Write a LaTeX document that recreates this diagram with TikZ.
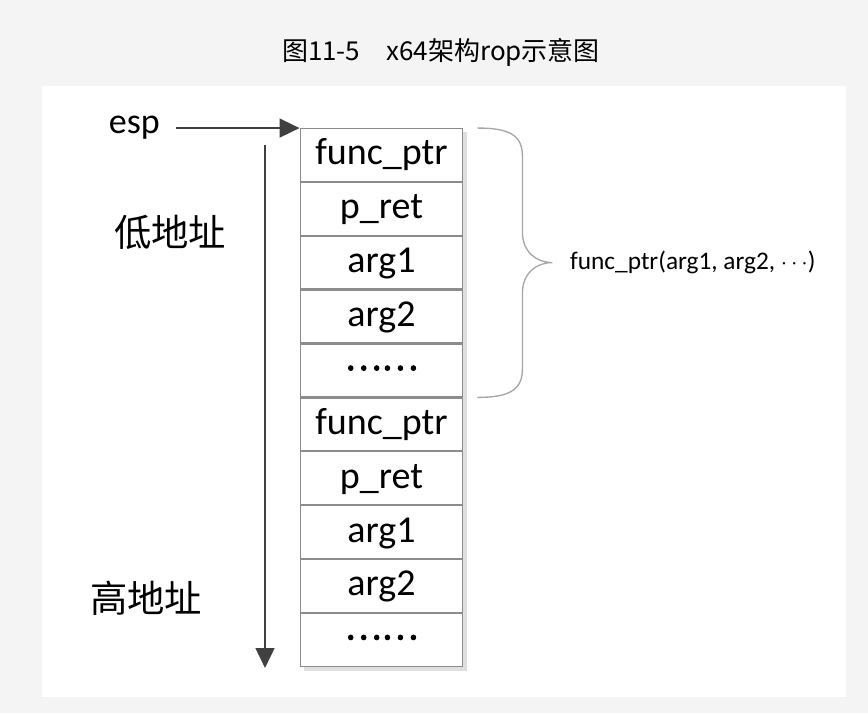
\documentclass[tikz,border=0pt]{standalone}
\usepackage{fontspec}
\setmainfont{Carlito}
\newfontfamily\cjk{Noto Sans CJK SC}
\newfontfamily\cjkheavy[FakeBold=2.5]{Noto Sans CJK SC}
\usetikzlibrary{positioning, arrows.meta, backgrounds, calc}
\definecolor{pagegray}{HTML}{F4F4F4}
\definecolor{cellline}{HTML}{8C8C8C}
\definecolor{arrowdark}{HTML}{404040}
\definecolor{bracegray}{HTML}{A6A6A6}
\newcommand{\stackdots}{{\cjkheavy\fontsize{26}{30}\selectfont\raisebox{0.3em}{……}}}

\begin{document}
\begin{tikzpicture}[x=0.75pt, y=-0.75pt,
    cell/.style={draw=cellline, line width=0.9pt, fill=white,
                 minimum width=122pt, minimum height=39.5pt,
                 text height=20pt, text depth=5pt,
                 inner sep=0pt, font=\fontsize{28.5}{32}\selectfont},
    addr/.style={font=\cjk\fontsize{28}{31}\selectfont, inner sep=0pt},
    ptrarrow/.style={-{Triangle[length=15pt,width=14pt]}, line width=2pt, arrowdark},
    bracel/.style={bracegray, line width=1pt},
  ]
  \useasboundingbox (0,0) rectangle (868,713);
  \node[font=\cjk\fontsize{19.5}{22}\selectfont] (title) at (441,52) {图11-5　x64架构rop示意图};
  % stack cells
  \node[cell] (c1) at (381.5,155) {func\_ptr};
  \foreach \t [count=\i from 2, evaluate=\i as \j using int(\i-1)] in
      {p\_ret, arg1, arg2, \stackdots, func\_ptr, p\_ret, arg1, arg2, \stackdots}
    \node[cell, below=0pt of c\j] (c\i) {\t};
  \node[font=\fontsize{27}{30}\selectfont, anchor=east, inner sep=0pt] (esp) at (160,128) {esp};
  \draw[ptrarrow] (esp.east |- c1.north west) ++(16,0) -- (c1.north west);
  \coordinate (top) at (265,145);
  \coordinate (bot) at (265,668);
  \draw[ptrarrow] (top) -- (bot);
  \node[addr] (low) at (170,232) {低地址};
  \node[addr] (high) at (146,598) {高地址};
  % brace over the first frame
  \coordinate (btop) at ($(c1.north east)+(14,0)$);
  \coordinate (bbot) at ($(c5.south east)+(14,0)$);
  \draw[bracel] (btop) .. controls +(30,0) and +(0,-22) .. ++(45,28)
    -- ++(0,76) .. controls +(0,20) and +(-16,0) .. ++(30,30.5) coordinate (btip)
    .. controls +(-16,0) and +(0,-20) .. ++(-30,30.5)
    -- ++(0,76) .. controls +(0,22) and +(30,0) .. (bbot);
  \node[font=\fontsize{19}{22}\selectfont, anchor=west] (call) at ($(btip)+(13,0)$)
    {func\_ptr(arg1, arg2, $\cdots$)};
  \begin{scope}[on background layer]
    \fill[pagegray] (0,0) rectangle (868,713);
    \fill[white] (42,86) rectangle (846,697);
    \fill[gray!25] ($(c1.north west)+(4,4)$) rectangle ($(c10.south east)+(4,4)$);
  \end{scope}
\end{tikzpicture}
\end{document}
